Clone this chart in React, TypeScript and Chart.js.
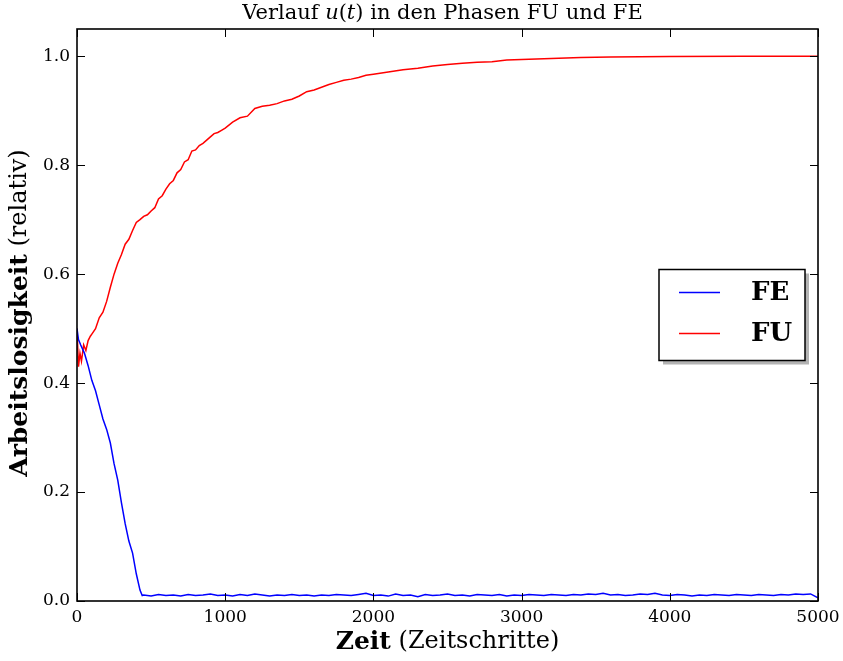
import React, { useEffect, useRef } from "react";
import { Chart, registerables } from "chart.js";

Chart.register(...registerables);

// Axis ticks
const xTicks = [0, 1000, 2000, 3000, 4000, 5000];
const yTicks = [0.0, 0.2, 0.4, 0.6, 0.8, 1.0];

// Phase FE: relative unemployment per time step
const feSteps = [
  0, 10, 25, 50, 75, 100, 125, 150, 175, 200, 225, 250, 275, 300, 325, 350, 375, 400, 425, 440,
  450, 500, 550, 600, 650, 700, 750, 800, 850, 900, 950, 1000, 1050, 1100, 1150, 1200, 1250, 1300,
  1350, 1400, 1450, 1500, 1550, 1600, 1650, 1700, 1750, 1800, 1850, 1900, 1950, 2000, 2050, 2100,
  2150, 2200, 2250, 2300, 2350, 2400, 2450, 2500, 2550, 2600, 2650, 2700, 2750, 2800, 2850, 2900,
  2950, 3000, 3050, 3100, 3150, 3200, 3250, 3300, 3350, 3400, 3450, 3500, 3550, 3600, 3650, 3700,
  3750, 3800, 3850, 3900, 3950, 4000, 4050, 4100, 4150, 4200, 4250, 4300, 4350, 4400, 4450, 4500,
  4550, 4600, 4650, 4700, 4750, 4800, 4850, 4900, 4950, 5000,
];
const feValues = [
  0.5, 0.48, 0.47, 0.455, 0.432, 0.405, 0.386, 0.36, 0.334, 0.315, 0.29, 0.252, 0.222, 0.18, 0.142,
  0.11, 0.088, 0.05, 0.02, 0.01,
  0.011, 0.009, 0.012, 0.01, 0.011, 0.009, 0.012, 0.01, 0.011, 0.013, 0.01, 0.011, 0.009, 0.012,
  0.01, 0.013, 0.011, 0.009, 0.011, 0.01, 0.012, 0.01, 0.011, 0.009, 0.011, 0.01, 0.012, 0.011,
  0.01, 0.012, 0.014, 0.01, 0.011, 0.009, 0.013, 0.01, 0.011, 0.008, 0.012, 0.01, 0.011, 0.013,
  0.01, 0.011, 0.009, 0.012, 0.011, 0.01, 0.012, 0.009, 0.011, 0.01, 0.012, 0.011, 0.01, 0.012,
  0.011, 0.01, 0.012, 0.011, 0.013, 0.012, 0.014, 0.011, 0.012, 0.01, 0.011, 0.013, 0.012, 0.014,
  0.011, 0.01, 0.012, 0.011, 0.009, 0.011, 0.01, 0.012, 0.011, 0.01, 0.012, 0.011, 0.01, 0.012,
  0.011, 0.01, 0.012, 0.011, 0.013, 0.012, 0.013, 0.006,
];

// Phase FU: relative unemployment per time step
const fuSteps = [
  0, 10, 20, 30, 45, 60, 75, 90, 100, 125, 150, 175, 200, 225, 250, 275, 300, 325, 350, 375, 400,
  425, 450, 475, 500, 525, 550, 575, 600, 625, 650, 675, 700, 725, 750, 775, 800, 825, 850, 875,
  900, 925, 950, 975, 1000, 1050, 1100, 1150, 1200, 1250, 1300, 1350, 1400, 1450, 1500, 1550, 1600,
  1650, 1700, 1750, 1800, 1850, 1900, 1950, 2000, 2100, 2200, 2300, 2400, 2500, 2600, 2700, 2800,
  2900, 3000, 3200, 3400, 3600, 3800, 4000, 4500, 5000,
];
const fuValues = [
  0.5, 0.43, 0.455, 0.44, 0.47, 0.46, 0.478, 0.486, 0.49, 0.5, 0.52, 0.53, 0.55, 0.576, 0.6, 0.62,
  0.636, 0.655, 0.664, 0.68, 0.695, 0.7, 0.706, 0.709, 0.716, 0.722, 0.738, 0.744, 0.756, 0.766,
  0.772, 0.786, 0.792, 0.806, 0.81, 0.826, 0.828, 0.836, 0.84, 0.846, 0.852, 0.858, 0.86, 0.864,
  0.868, 0.879, 0.887, 0.89, 0.904, 0.908, 0.91, 0.913, 0.918, 0.921, 0.927, 0.935, 0.938, 0.943,
  0.948, 0.952, 0.956, 0.958, 0.961, 0.965, 0.967, 0.971, 0.975, 0.978, 0.982, 0.985, 0.987, 0.989,
  0.99, 0.993, 0.994, 0.996, 0.9975, 0.9985, 0.999, 0.9995, 0.9998, 1.0,
];

const SERIF = '"DejaVu Serif", "Liberation Serif", serif';

type Part = { text: string; font: string };

function drawRich(ctx: CanvasRenderingContext2D, parts: Part[], cx: number, cy: number) {
  let total = 0;
  for (const p of parts) {
    ctx.font = p.font;
    total += ctx.measureText(p.text).width;
  }
  let x = cx - total / 2;
  ctx.textAlign = "left";
  ctx.textBaseline = "middle";
  for (const p of parts) {
    ctx.font = p.font;
    ctx.fillText(p.text, x, cy);
    x += ctx.measureText(p.text).width;
  }
}

const decorations = {
  id: "decorations",
  afterDraw(chart: any) {
    const { ctx, chartArea } = chart;
    const { left, right, top, bottom } = chartArea;
    const xs = chart.scales.x;
    const ys = chart.scales.y;
    ctx.save();
    ctx.fillStyle = "#000";
    ctx.strokeStyle = "#000";

    // inward tick marks on all four sides
    ctx.lineWidth = 1;
    const tl = 8;
    ctx.beginPath();
    for (const v of xTicks) {
      const px = Math.round(xs.getPixelForValue(v)) + 0.5;
      ctx.moveTo(px, bottom);
      ctx.lineTo(px, bottom - tl);
      ctx.moveTo(px, top);
      ctx.lineTo(px, top + tl);
    }
    for (const v of yTicks) {
      const py = Math.round(ys.getPixelForValue(v)) + 0.5;
      ctx.moveTo(left, py);
      ctx.lineTo(left + tl, py);
      ctx.moveTo(right, py);
      ctx.lineTo(right - tl, py);
    }
    ctx.stroke();

    // frame
    ctx.lineWidth = 1.6;
    ctx.strokeRect(left, top, right - left, bottom - top);

    const cx = (left + right) / 2;
    const cy = (top + bottom) / 2;

    // title
    drawRich(
      ctx,
      [
        { text: "Verlauf ", font: `21px ${SERIF}` },
        { text: "u", font: `italic 21px ${SERIF}` },
        { text: "(", font: `21px ${SERIF}` },
        { text: "t", font: `italic 21px ${SERIF}` },
        { text: ") in den Phasen FU und FE", font: `21px ${SERIF}` },
      ],
      cx - 5,
      14
    );

    // x axis title
    drawRich(
      ctx,
      [
        { text: "Zeit", font: `bold 25px ${SERIF}` },
        { text: " (Zeitschritte)", font: `24px ${SERIF}` },
      ],
      cx,
      642
    );

    // y axis title
    ctx.save();
    ctx.translate(20, cy - 2);
    ctx.rotate(-Math.PI / 2);
    drawRich(
      ctx,
      [
        { text: "Arbeitslosigkeit", font: `bold 25px ${SERIF}` },
        { text: " (relativ)", font: `24px ${SERIF}` },
      ],
      0,
      0
    );
    ctx.restore();

    // legend (center right)
    const bw = 146;
    const bh = 91;
    const bx = right - 13 - bw;
    const by = cy - bh / 2;
    ctx.fillStyle = "#b3b3b3";
    ctx.fillRect(bx + 4, by + 4, bw, bh);
    ctx.fillStyle = "#fff";
    ctx.fillRect(bx, by, bw, bh);
    ctx.lineWidth = 1.5;
    ctx.strokeStyle = "#000";
    ctx.strokeRect(bx, by, bw, bh);
    chart.data.datasets.forEach((ds: any, i: number) => {
      const ly = by + 23 + i * 41;
      ctx.strokeStyle = ds.borderColor;
      ctx.lineWidth = 1.5;
      ctx.beginPath();
      ctx.moveTo(bx + 20, ly);
      ctx.lineTo(bx + 61, ly);
      ctx.stroke();
      ctx.fillStyle = "#000";
      ctx.font = `bold 26px ${SERIF}`;
      ctx.textAlign = "left";
      ctx.textBaseline = "middle";
      ctx.fillText(ds.label, bx + 92, ly + 1);
    });

    ctx.restore();
  },
};

export default function App() {
  const canvasRef = useRef<HTMLCanvasElement | null>(null);

  useEffect(() => {
    const canvas = canvasRef.current;
    if (!canvas) return;
    const chart = new Chart(canvas, {
      type: "line",
      data: {
        datasets: [
          {
            label: "FE",
            data: feSteps.map((t, i) => ({ x: t, y: feValues[i] })),
            borderColor: "#0000ff",
            borderWidth: 1.5,
            pointRadius: 0,
            tension: 0,
          },
          {
            label: "FU",
            data: fuSteps.map((t, i) => ({ x: t, y: fuValues[i] })),
            borderColor: "#ff0000",
            borderWidth: 1.5,
            pointRadius: 0,
            tension: 0,
          },
        ],
      },
      options: {
        responsive: false,
        animation: false,
        layout: { padding: { top: 29, right: 25, left: 0, bottom: 0 } },
        plugins: {
          legend: { display: false },
          title: { display: false },
          tooltip: { enabled: false },
        },
        scales: {
          x: {
            type: "linear",
            min: 0,
            max: 5000,
            grid: { display: false, drawTicks: false },
            border: { display: false },
            afterBuildTicks: (scale: any) => {
              scale.ticks = xTicks.map((v) => ({ value: v }));
            },
            afterFit: (scale: any) => {
              scale.height = 60;
              scale.paddingLeft = 0;
              scale.paddingRight = 0;
            },
            ticks: {
              color: "#000",
              padding: 6,
              maxRotation: 0,
              font: { family: SERIF, size: 17 },
              callback: (v: any) => String(v),
            },
          },
          y: {
            type: "linear",
            min: 0,
            max: 1.05,
            grid: { display: false, drawTicks: false },
            border: { display: false },
            afterBuildTicks: (scale: any) => {
              scale.ticks = yTicks.map((v) => ({ value: v }));
            },
            afterFit: (scale: any) => {
              scale.width = 77;
              scale.paddingTop = 0;
              scale.paddingBottom = 0;
            },
            ticks: {
              color: "#000",
              padding: 7,
              font: { family: SERIF, size: 17 },
              callback: (v: any) => Number(v).toFixed(1),
            },
          },
        },
      },
      plugins: [decorations],
    });
    return () => chart.destroy();
  }, []);

  return (
    <div style={{ position: "absolute", left: 0, top: 0, width: 843, height: 661, background: "#fff" }}>
      <canvas ref={canvasRef} width={843} height={661} />
    </div>
  );
}
